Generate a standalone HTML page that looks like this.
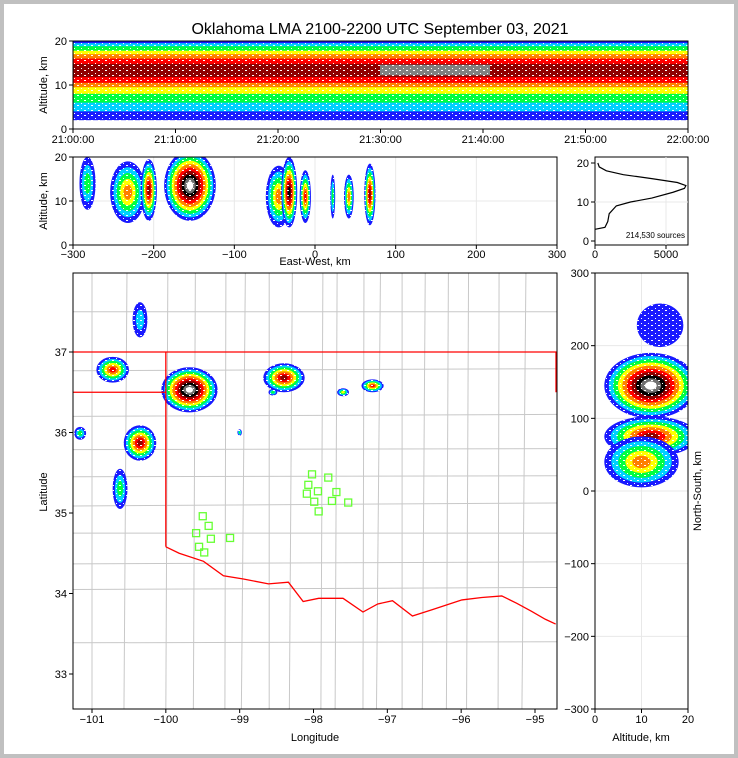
<!DOCTYPE html>
<html><head><meta charset="utf-8"><style>
html,body{margin:0;padding:0;background:#c0c0c0;}
#wrap{position:absolute;left:4px;top:4px;width:730px;height:750px;background:#fff;}
svg{position:absolute;left:0;top:0;}
text{font-family:"Liberation Sans",sans-serif;fill:#000;}
</style></head><body>
<div id="wrap"></div>
<svg id="fig" width="738" height="758" viewBox="0 0 738 758"></svg>
<script>
// ---- data ----
const timeTicks=["21:00:00","21:10:00","21:20:00","21:30:00","21:40:00","21:50:00","22:00:00"];
const altTicks=[0,10,20];
const ewTicks=[-300,-200,-100,0,100,200,300];
const nsTicks=[-300,-200,-100,0,100,200,300];
const lonTicks=[-101,-100,-99,-98,-97,-96,-95];
const latTicks=[33,34,35,36,37];
const countTicks=[0,5000];
const bandLow=[2,4,6,8,9.5,10.5,11.8];
const bandHigh=[20,19.5,18.8,17.8,17,16,14.8];
const bandLevel=[1,2,3,4,5,6,7];
const ewX=[-282,-232,-206,-155,-45,-32,-12,22,42,68];
const ewZ=[14,12,12.5,13.5,11,12,11,11,11,11.5];
const ewRx=[10,22,10,32,16,10,7,3,6,7];
const ewRz=[6,7,7,8,7,8,6,5,5,7];
const ewLevel=[2,4,6,9,4,7,5,2,4,6];
const mapLon=[-100.72,-99.68,-98.4,-97.2,-97.6,-100.35,-101.16,-100.62,-100.35,-98.55,-99.0];
const mapLat=[36.78,36.53,36.68,36.58,36.5,35.87,35.99,35.3,37.4,36.5,36.0];
const mapRx=[0.22,0.38,0.28,0.15,0.08,0.22,0.08,0.1,0.1,0.06,0.03];
const mapRy=[0.16,0.28,0.18,0.08,0.05,0.22,0.08,0.25,0.22,0.04,0.04];
const mapLevel=[5,9,6,5,3,6,2,2,1,2,2];
const nsY=[145,75,40,228];
const nsZ=[12,12,10,14];
const nsRy=[45,28,35,30];
const nsRz=[10,10,8,5];
const nsLevel=[9,6,4,0];
const profCount=[0,700,900,1000,1500,2500,4000,5500,6300,6400,5800,4000,2000,800,300,200];
const profAlt=[3,3.5,5,7,9,10,11,12.5,13.5,14.2,15,16,17,18,19,20];
const staLon=[-99.5,-99.42,-99.59,-99.39,-99.55,-99.48,-99.13,-98.02,-97.8,-98.07,-97.94,-98.09,-97.69,-97.99,-97.75,-97.53,-97.93];
const staLat=[34.96,34.84,34.75,34.68,34.58,34.51,34.69,35.48,35.44,35.35,35.27,35.24,35.26,35.14,35.15,35.13,35.02];
const rrLon=[-100,-99.82,-99.49,-99.22,-98.95,-98.61,-98.34,-98.14,-97.93,-97.6,-97.33,-97.13,-96.93,-96.66,-96.39,-96.19,-95.99,-95.72,-95.45,-95.25,-95.05,-94.86,-94.72];
const rrLat=[34.58,34.5,34.4,34.22,34.18,34.12,34.14,33.9,33.94,33.94,33.77,33.87,33.91,33.72,33.8,33.86,33.92,33.95,33.97,33.88,33.78,33.68,33.62];
const vLinesLon=[-101,-100.54,-100.0,-99.6,-99.2,-98.95,-98.6,-98.3,-97.9,-97.68,-97.33,-97.12,-96.8,-96.5,-96.2,-95.9,-95.5,-95.15];
const hLinesLat=[37.5,36.78,36.2,35.8,35.45,35.1,34.75,34.38,34.05,33.4];
const colors=['#1a1aff','#00d0ff','#00ff40','#ffff00','#ff8000','#ff0000','#900000','#000000','#707070','#ffffff'];

const NS='http://www.w3.org/2000/svg';
const fig=document.getElementById('fig');
function el(tag,attrs,parent){const e=document.createElementNS(NS,tag);for(const k in attrs)e.setAttribute(k,attrs[k]);(parent||fig).appendChild(e);return e;}
function txt(x,y,s,size,anchor,parent,rot){const t=el('text',{x:x,y:y,'font-size':size,'text-anchor':anchor||'middle'},parent);if(rot)t.setAttribute('transform','rotate(-90 '+x+' '+y+')');t.textContent=s;return t;}
function lin(d0,d1,p0,p1){return v=>p0+(v-d0)/(d1-d0)*(p1-p0);}
function clip(id,x,y,w,h){const c=el('clipPath',{id:id});el('rect',{x:x,y:y,width:w,height:h},c);}
const defs=el('defs',{});
const pat=el('pattern',{id:'speck',width:7,height:5,patternUnits:'userSpaceOnUse'},defs);
el('rect',{x:0,y:0,width:2,height:1,fill:'#fff'},pat);
el('rect',{x:4,y:3,width:1,height:1,fill:'#fff'},pat);
function blob(g,cx,cy,rx,ry,level){for(let i=0;i<=level;i++){const f=1-i/(level+1.3);el('ellipse',{cx:cx,cy:cy,rx:rx*f,ry:ry*f,fill:colors[i]},g);}
el('ellipse',{cx:cx,cy:cy,rx:rx,ry:ry,fill:'url(#speck)'},g);}
function frame(x,y,w,h,name){el('rect',{x:x,y:y,width:w,height:h,fill:'none',stroke:'#000','stroke-width':1});}

const t=txt(380,34,'Oklahoma LMA 2100-2200 UTC September 03, 2021',16);


{const X0=73,X1=688,Y0=41,Y1=129;const sy=lin(0,20,Y1,Y0);
clip('ctop',X0,Y0,X1-X0,Y1-Y0);
const g=el('g',{'clip-path':'url(#ctop)'});
for(let i=0;i<bandLow.length;i++){const r=el('rect',{x:X0,y:sy(bandHigh[i]),width:X1-X0,height:sy(bandLow[i])-sy(bandHigh[i]),fill:colors[bandLevel[i]-1]},g);}
el('rect',{x:380,y:sy(14.6),width:110,height:sy(12.2)-sy(14.6),fill:'#808080'},g);
el('rect',{x:X0,y:Y0,width:X1-X0,height:Y1-Y0,fill:'url(#speck)'},g);
frame(X0,Y0,X1-X0,Y1-Y0,'time-panel-frame');
const sx=lin(0,6,X0,X1);
timeTicks.forEach((s,i)=>{el('line',{x1:sx(i),x2:sx(i),y1:Y1,y2:Y1+4,stroke:'#000'});txt(sx(i),143,s,11);});
altTicks.forEach(v=>{el('line',{x1:X0-4,x2:X0,y1:sy(v),y2:sy(v),stroke:'#000'});txt(X0-6,sy(v)+4,v,11,'end');});
txt(47,85,'Altitude, km',11,'middle',null,true);}

{const X0=73,X1=557,Y0=157,Y1=245;const sx=lin(-300,300,X0,X1),sy=lin(0,20,Y1,Y0);
clip('cew',X0,Y0,X1-X0,Y1-Y0);
ewTicks.forEach(v=>el('line',{x1:sx(v),x2:sx(v),y1:Y0,y2:Y1,stroke:'#e8e8e8'}));
el('line',{x1:X0,x2:X1,y1:sy(10),y2:sy(10),stroke:'#e8e8e8'});
const g=el('g',{'clip-path':'url(#cew)'});
const k=(X1-X0)/600,kz=(Y1-Y0)/20;
for(let i=0;i<ewX.length;i++)blob(g,sx(ewX[i]),sy(ewZ[i]),ewRx[i]*k,ewRz[i]*kz,ewLevel[i]);
frame(X0,Y0,X1-X0,Y1-Y0,'ew-panel-frame');
ewTicks.forEach(v=>{el('line',{x1:sx(v),x2:sx(v),y1:Y1,y2:Y1+4,stroke:'#000'});txt(sx(v),258,v<0?'\u2212'+(-v):v,11);});
altTicks.forEach(v=>{el('line',{x1:X0-4,x2:X0,y1:sy(v),y2:sy(v),stroke:'#000'});txt(X0-6,sy(v)+4,v,11,'end');});
txt(315,265,'East-West, km',11);txt(47,201,'Altitude, km',11,'middle',null,true);}

{const X0=595,X1=688,Y0=157,Y1=245;const sx=lin(0,5000,595,666),sy=lin(0,20,241,163);
frame(X0,Y0,X1-X0,Y1-Y0,'histogram-frame');
el('line',{x1:sx(5000),x2:sx(5000),y1:Y0,y2:Y1,stroke:'#e8e8e8'});
el('line',{x1:X0,x2:X1,y1:sy(10),y2:sy(10),stroke:'#e8e8e8'});
const p=el('polyline',{points:profCount.map((c,i)=>sx(c)+','+sy(profAlt[i])).join(' '),fill:'none',stroke:'#000','stroke-width':1.2});

countTicks.forEach(v=>{el('line',{x1:sx(v),x2:sx(v),y1:Y1,y2:Y1+4,stroke:'#000'});txt(sx(v),258,v,11);});
altTicks.forEach(v=>{el('line',{x1:X0-4,x2:X0,y1:sy(v),y2:sy(v),stroke:'#000'});txt(X0-6,sy(v)+4,v,11,'end');});
txt(685,238,'214,530 sources',8,'end');}

{const X0=73,X1=557,Y0=273,Y1=709;const sx=lin(-101,-95,92,535),sy=lin(37,33,352,674);
clip('cmap',X0,Y0,X1-X0,Y1-Y0);
const gc=el('g',{'clip-path':'url(#cmap)',stroke:'#c8c8c8','stroke-width':1});
vLinesLon.forEach((v,i)=>el('line',{x1:sx(v)+(i%3),x2:sx(v)-(i%2)*2,y1:Y0,y2:Y1},gc));
hLinesLat.forEach((v,i)=>el('line',{x1:X0,x2:X1,y1:sy(v)+(i%2),y2:sy(v)-(i%3)},gc));
const g=el('g',{'clip-path':'url(#cmap)'});
for(let i=0;i<mapLon.length;i++)blob(g,sx(mapLon[i]),sy(mapLat[i]),mapRx[i]*74,mapRy[i]*80.5,mapLevel[i]);
const gb=el('g',{'clip-path':'url(#cmap)',stroke:'#ff0000','stroke-width':1.3,fill:'none'});
el('line',{x1:X0,x2:X1,y1:sy(37),y2:sy(37)},gb);
el('line',{x1:X0,x2:sx(-100),y1:sy(36.5),y2:sy(36.5)},gb);
el('line',{x1:sx(-100),x2:sx(-100),y1:sy(37),y2:sy(34.58)},gb);
el('line',{x1:X1-1,x2:X1-1,y1:sy(37),y2:sy(36.5)},gb);
el('polyline',{points:rrLon.map((l,i)=>sx(l)+','+sy(rrLat[i])).join(' ')},gb);
for(let i=0;i<staLon.length;i++){const r=el('rect',{x:sx(staLon[i])-3.5,y:sy(staLat[i])-3.5,width:7,height:7,fill:'none',stroke:'#66ff33','stroke-width':1.3});
}
frame(X0,Y0,X1-X0,Y1-Y0,'map-frame');
lonTicks.forEach(v=>{el('line',{x1:sx(v),x2:sx(v),y1:Y1,y2:Y1+4,stroke:'#000'});txt(sx(v),723,'\u2212'+(-v),11);});
latTicks.forEach(v=>{el('line',{x1:X0-4,x2:X0,y1:sy(v),y2:sy(v),stroke:'#000'});txt(X0-6,sy(v)+4,v,11,'end');});
txt(315,741,'Longitude',11);txt(47,492,'Latitude',11,'middle',null,true);}

{const X0=595,X1=688,Y0=273,Y1=709;const sx=lin(0,20,X0,X1),sy=lin(-300,300,Y1,Y0);
clip('cns',X0,Y0,X1-X0,Y1-Y0);
nsTicks.forEach(v=>el('line',{x1:X0,x2:X1,y1:sy(v),y2:sy(v),stroke:'#e8e8e8'}));
el('line',{x1:sx(10),x2:sx(10),y1:Y0,y2:Y1,stroke:'#e8e8e8'});
const g=el('g',{'clip-path':'url(#cns)'});
for(let i=0;i<nsY.length;i++)blob(g,sx(nsZ[i]),sy(nsY[i]),nsRz[i]*(X1-X0)/20,nsRy[i]*(Y1-Y0)/600,nsLevel[i]);
frame(X0,Y0,X1-X0,Y1-Y0,'ns-panel-frame');
altTicks.forEach(v=>{el('line',{x1:sx(v),x2:sx(v),y1:Y1,y2:Y1+4,stroke:'#000'});txt(sx(v),723,v,11);});
nsTicks.forEach(v=>{el('line',{x1:X0-4,x2:X0,y1:sy(v),y2:sy(v),stroke:'#000'});txt(X0-6,sy(v)+4,v<0?'\u2212'+(-v):v,11,'end');});
txt(641,741,'Altitude, km',11);txt(701,491,'North-South, km',11,'middle',null,true);}
</script>
</body></html>
